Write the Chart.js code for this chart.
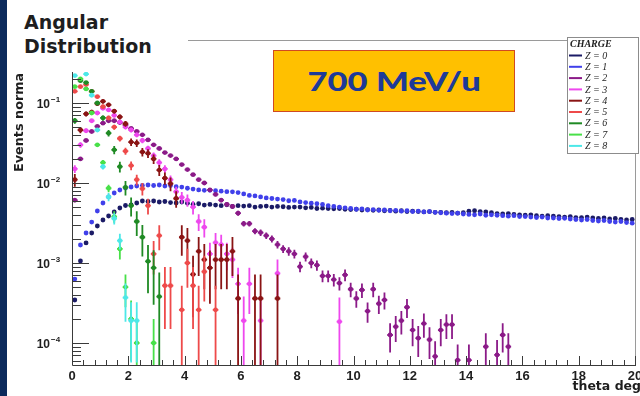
<!DOCTYPE html>
<html>
<head>
<meta charset="utf-8">
<title>Angular Distribution</title>
<script src="https://cdn.jsdelivr.net/npm/chart.js@4.4.0/dist/chart.umd.min.js"></script>
<style>
  html, body { margin: 0; padding: 0; background: #fff; }
  .slide { position: relative; width: 640px; height: 396px; overflow: hidden; background: #fff; }
  #angular { position: absolute; left: 0; top: 0; }
  .strip { position: absolute; left: 0; top: 0; width: 7px; height: 396px; background: #0c2a5c; }
  .title {
    position: absolute; left: 8px; top: 0; width: 180px; height: 72px;
    box-sizing: border-box; padding: 10px 0 0 16px; background: #fff;
    font: bold 19px "DejaVu Sans", sans-serif; line-height: 24px; color: #1e1e1e;
  }
  .energy {
    position: absolute; left: 273px; top: 50px; width: 242px; height: 62px;
    box-sizing: border-box; background: #ffc000; border: 1px solid #cf4a22;
    display: flex; align-items: center; justify-content: center;
  }
  .energy span {
    display: inline-block; font: 900 26px Lato, sans-serif; color: #1d3a98;
    transform: scaleX(1.33);
  }
</style>
</head>
<body>
<div class="slide">
  <canvas id="angular" width="640" height="396"></canvas>
  <div class="strip"></div>
  <div class="title">Angular<br>Distribution</div>
  <div class="energy"><span>700 MeV/u</span></div>
</div>
<script>
// bin centres of the theta histograms (0.2 deg bins, 0..20 deg)
const thetaBins = Array.from({ length: 100 }, (_, i) => +(0.1 + 0.2 * i).toFixed(1));

const chargeLabels = ['Z = 0', 'Z = 1', 'Z = 2', 'Z = 3', 'Z = 4', 'Z = 5', 'Z = 6', 'Z = 7', 'Z = 8'];

// Z = 0 and Z = 1 cover the full range, one value per bin
const z0Values = [
  3.45e-4, 1.06e-3, 1.78e-3, 2.37e-3, 2.9e-3, 3.45e-3, 3.87e-3, 4.34e-3, 4.87e-3, 5.23e-3,
  5.31e-3, 5.62e-3, 5.96e-3, 5.87e-3, 5.96e-3, 5.79e-3, 5.87e-3, 5.70e-3, 5.62e-3, 5.79e-3,
  5.6e-3, 5.4e-3, 5.5e-3, 5.3e-3, 5.4e-3, 5.3e-3, 5.2e-3, 5.35e-3, 5.1e-3, 5.2e-3,
  5.15e-3, 5.2e-3, 5.0e-3, 5.1e-3, 5.15e-3, 5.0e-3, 5.1e-3, 5.05e-3, 4.95e-3, 5.0e-3,
  5.0e-3, 4.9e-3, 4.95e-3, 4.8e-3, 4.85e-3, 4.8e-3, 4.75e-3, 4.8e-3, 4.7e-3, 4.65e-3,
  4.7e-3, 4.6e-3, 4.65e-3, 4.55e-3, 4.6e-3, 4.5e-3, 4.55e-3, 4.45e-3, 4.5e-3, 4.4e-3,
  4.45e-3, 4.4e-3, 4.35e-3, 4.4e-3, 4.3e-3, 4.3e-3, 4.25e-3, 4.3e-3, 4.2e-3, 4.25e-3,
  4.45e-3, 4.5e-3, 4.4e-3, 4.35e-3, 4.25e-3, 4.15e-3, 4.1e-3, 4.15e-3, 4.05e-3, 4.0e-3,
  3.95e-3, 4.0e-3, 3.9e-3, 3.85e-3, 3.9e-3, 3.85e-3, 3.8e-3, 3.75e-3, 3.8e-3, 3.7e-3,
  3.7e-3, 3.75e-3, 3.65e-3, 3.6e-3, 3.65e-3, 3.55e-3, 3.6e-3, 3.5e-3, 3.45e-3, 3.5e-3
];
const z1Values = [
  6.3e-4, 1.68e-3, 2.37e-3, 3.25e-3, 4.47e-3, 5.62e-3, 6.68e-3, 7.5e-3, 8.18e-3, 8.66e-3,
  8.91e-3, 9.17e-3, 9.3e-3, 9.44e-3, 9.3e-3, 9.44e-3, 9.17e-3, 9.3e-3, 9.0e-3, 8.9e-3,
  8.6e-3, 8.4e-3, 8.2e-3, 8.1e-3, 8.1e-3, 8.0e-3, 7.9e-3, 7.8e-3, 7.75e-3, 7.6e-3,
  7.3e-3, 7.0e-3, 6.9e-3, 6.7e-3, 6.5e-3, 6.4e-3, 6.3e-3, 6.2e-3, 6.0e-3, 6.05e-3,
  5.8e-3, 5.7e-3, 5.6e-3, 5.5e-3, 5.4e-3, 5.2e-3, 5.1e-3, 5.0e-3, 4.9e-3, 4.8e-3,
  4.7e-3, 4.75e-3, 4.6e-3, 4.65e-3, 4.55e-3, 4.6e-3, 4.5e-3, 4.55e-3, 4.45e-3, 4.5e-3,
  4.4e-3, 4.45e-3, 4.35e-3, 4.4e-3, 4.3e-3, 4.25e-3, 4.2e-3, 4.15e-3, 4.2e-3, 4.1e-3,
  4.05e-3, 4.0e-3, 4.1e-3, 3.95e-3, 4.0e-3, 3.95e-3, 3.9e-3, 3.85e-3, 3.9e-3, 3.8e-3,
  3.8e-3, 3.75e-3, 3.7e-3, 3.75e-3, 3.65e-3, 3.65e-3, 3.6e-3, 3.62e-3, 3.55e-3, 3.5e-3,
  3.45e-3, 3.5e-3, 3.4e-3, 3.35e-3, 3.4e-3, 3.3e-3, 3.25e-3, 3.3e-3, 3.2e-3, 3.15e-3
];

// heavier fragments: [theta, value, error], empty bins left out
const z2Points = [
  [0.1, 0.0061, 3.5e-4], [0.3, 0.020, 6.3e-4], [0.5, 0.034, 8.2e-4], [0.7, 0.044, 9.4e-4],
  [0.9, 0.051, 1.0e-3], [1.1, 0.056, 1.06e-3], [1.3, 0.060, 1.1e-3], [1.5, 0.060, 1.1e-3],
  [1.7, 0.057, 1.07e-3], [1.9, 0.053, 1.03e-3], [2.1, 0.048, 9.8e-4], [2.3, 0.044, 9.4e-4],
  [2.5, 0.040, 8.9e-4], [2.7, 0.0345, 8.3e-4], [2.9, 0.030, 7.7e-4], [3.1, 0.027, 7.3e-4],
  [3.3, 0.024, 6.9e-4], [3.5, 0.022, 6.6e-4], [3.7, 0.020, 6.3e-4], [3.9, 0.017, 5.8e-4],
  [4.1, 0.0147, 5.4e-4], [4.3, 0.0127, 5.0e-4], [4.5, 0.011, 4.7e-4], [4.7, 0.010, 4.5e-4],
  [4.9, 0.0082, 4.0e-4], [5.1, 0.0072, 3.8e-4], [5.3, 0.0061, 3.5e-4], [5.5, 0.0054, 3.3e-4],
  [5.7, 0.0051, 3.2e-4], [5.9, 0.0042, 2.9e-4], [6.1, 0.0031, 2.5e-4], [6.3, 0.0031, 2.5e-4],
  [6.5, 0.0025, 2.2e-4], [6.7, 0.0024, 2.2e-4], [6.9, 0.0022, 2.1e-4], [7.1, 0.0020, 2.0e-4],
  [7.3, 0.0017, 1.8e-4], [7.5, 0.0015, 1.7e-4], [7.7, 0.0014, 1.7e-4], [7.9, 0.0013, 1.6e-4],
  [8.1, 9.0e-4, 1.34e-4], [8.3, 1.2e-3, 1.55e-4], [8.5, 1.0e-3, 1.41e-4], [8.7, 9.4e-4, 1.37e-4],
  [8.9, 6.9e-4, 1.17e-4], [9.1, 6.9e-4, 1.17e-4], [9.3, 6.2e-4, 1.11e-4], [9.5, 5.6e-4, 1.06e-4],
  [9.7, 7.1e-4, 1.19e-4], [9.9, 4.7e-4, 9.7e-5], [10.1, 3.6e-4, 8.5e-5], [10.3, 4.6e-4, 9.6e-5],
  [10.5, 2.5e-4, 7.1e-5], [10.7, 4.7e-4, 9.7e-5], [10.9, 3.1e-4, 7.9e-5], [11.1, 3.45e-4, 8.3e-5],
  [11.3, 1.26e-4, 5.0e-5], [11.5, 1.6e-4, 5.7e-5], [11.7, 1.9e-4, 6.2e-5], [11.9, 2.8e-4, 7.5e-5],
  [12.1, 1.45e-4, 5.4e-5], [12.3, 1.15e-4, 4.8e-5], [12.5, 1.75e-4, 5.9e-5], [12.7, 1.1e-4, 4.7e-5],
  [12.9, 6.8e-5, 3.7e-5], [13.1, 1.45e-4, 5.4e-5], [13.3, 1.7e-4, 5.8e-5], [13.5, 1.7e-4, 5.8e-5],
  [13.7, 6.1e-5, 3.5e-5], [14.1, 6.1e-5, 3.5e-5], [14.7, 9.0e-5, 4.2e-5], [15.1, 7.1e-5, 3.8e-5],
  [15.3, 1.26e-4, 5.0e-5], [15.5, 9.0e-5, 4.2e-5]
];
const z3Points = [
  [0.1, 0.015, 1.67e-3], [0.3, 0.030, 2.4e-3], [0.5, 0.045, 2.9e-3], [0.7, 0.060, 3.3e-3],
  [0.9, 0.075, 3.7e-3], [1.1, 0.086, 4.0e-3], [1.3, 0.082, 3.9e-3], [1.5, 0.070, 3.6e-3],
  [1.7, 0.058, 3.3e-3], [1.9, 0.050, 3.0e-3], [2.1, 0.046, 2.9e-3], [2.3, 0.040, 2.7e-3],
  [2.5, 0.034, 2.5e-3], [2.7, 0.027, 2.2e-3], [2.9, 0.022, 2.0e-3], [3.1, 0.018, 1.8e-3],
  [3.3, 0.015, 1.67e-3], [3.5, 0.011, 1.43e-3], [3.7, 0.0078, 1.2e-3], [3.9, 0.0066, 1.1e-3],
  [4.1, 0.0061, 1.06e-3], [4.3, 0.0050, 9.6e-4], [4.5, 0.0033, 7.8e-4], [4.7, 0.0028, 7.2e-4],
  [4.9, 0.0013, 4.9e-4], [5.1, 0.0018, 5.8e-4], [5.3, 0.0017, 5.6e-4], [5.5, 0.0013, 4.9e-4],
  [5.7, 0.0011, 4.5e-4], [5.9, 5.5e-4, 3.2e-4], [6.1, 1.9e-4, 1.9e-4], [6.3, 5.5e-4, 3.2e-4],
  [6.7, 1.9e-4, 1.9e-4], [7.3, 7.4e-4, 3.7e-4], [9.5, 1.85e-4, 1.85e-4]
];
const z4Points = [
  [0.1, 0.011, 2.0e-3], [0.3, 0.046, 4.1e-3], [0.5, 0.073, 5.1e-3], [0.7, 0.077, 5.3e-3],
  [0.9, 0.098, 5.9e-3], [1.1, 0.105, 6.1e-3], [1.3, 0.095, 5.8e-3], [1.5, 0.079, 5.3e-3],
  [1.7, 0.067, 4.9e-3], [1.9, 0.055, 4.4e-3], [2.1, 0.0325, 3.4e-3], [2.3, 0.0316, 3.4e-3],
  [2.5, 0.0244, 3.0e-3], [2.7, 0.0235, 2.9e-3], [2.9, 0.020, 2.7e-3], [3.1, 0.0145, 2.3e-3],
  [3.3, 0.0115, 2.0e-3], [3.5, 0.0098, 1.9e-3], [3.7, 0.0064, 1.5e-3], [3.9, 0.0021, 8.7e-4],
  [4.1, 0.0019, 8.3e-4], [4.3, 7.2e-4, 5.1e-4], [4.5, 0.0014, 7.1e-4], [4.7, 0.0011, 6.3e-4],
  [4.9, 8.7e-4, 5.6e-4], [5.1, 0.0011, 6.3e-4], [5.3, 0.0011, 6.3e-4], [5.5, 0.0011, 6.3e-4],
  [5.7, 0.0014, 7.1e-4], [5.9, 3.6e-4, 3.6e-4], [6.5, 3.6e-4, 3.6e-4], [6.7, 3.6e-4, 3.6e-4],
  [7.3, 3.6e-4, 3.6e-4]
];
const z5Points = [
  [0.1, 0.14, 6.0e-3], [0.3, 0.16, 6.5e-3], [0.5, 0.17, 6.6e-3], [0.7, 0.14, 6.0e-3],
  [0.9, 0.12, 5.6e-3], [1.1, 0.09, 4.8e-3], [1.3, 0.065, 4.1e-3], [1.5, 0.050, 3.6e-3],
  [1.7, 0.036, 3.1e-3], [1.9, 0.025, 2.5e-3], [2.1, 0.0165, 2.1e-3], [2.3, 0.011, 1.7e-3],
  [2.5, 0.0085, 1.5e-3], [2.7, 0.0052, 1.16e-3], [2.9, 0.0013, 5.8e-4], [3.1, 0.0022, 7.6e-4],
  [3.3, 5.2e-4, 3.7e-4], [3.5, 5.2e-4, 3.7e-4], [3.9, 2.6e-4, 2.6e-4], [4.1, 0.0010, 5.1e-4],
  [4.3, 5.2e-4, 3.7e-4], [4.5, 2.6e-4, 2.6e-4], [4.7, 7.8e-4, 4.5e-4], [5.1, 2.6e-4, 2.6e-4]
];
const z6Points = [
  [0.1, 0.06, 4.8e-3], [0.3, 0.19, 8.5e-3], [0.5, 0.18, 8.3e-3], [0.7, 0.14, 7.3e-3],
  [0.9, 0.10, 6.2e-3], [1.1, 0.065, 5.0e-3], [1.3, 0.042, 4.0e-3], [1.5, 0.026, 3.1e-3],
  [1.7, 0.016, 2.5e-3], [1.9, 0.0088, 1.83e-3], [2.1, 0.0052, 1.4e-3], [2.3, 0.0033, 1.12e-3],
  [2.5, 0.0021, 8.9e-4], [2.7, 0.00105, 6.3e-4], [2.9, 8.7e-4, 5.7e-4], [3.1, 3.8e-4, 3.8e-4]
];
const z7Points = [
  [0.1, 0.16, 4.0e-3], [0.3, 0.20, 4.5e-3], [0.5, 0.15, 3.9e-3], [0.7, 0.075, 2.7e-3],
  [0.9, 0.030, 1.7e-3], [1.1, 0.018, 1.34e-3], [1.3, 0.0086, 9.3e-4], [1.5, 0.0038, 6.2e-4],
  [1.7, 0.0015, 3.9e-4], [1.9, 5.0e-4, 2.2e-4], [2.1, 2.0e-4, 1.4e-4], [2.3, 1.0e-4, 1.0e-4],
  [2.9, 1.0e-4, 1.0e-4]
];
const z8Points = [
  [0.1, 0.22, 4.5e-3], [0.3, 0.30, 5.3e-3], [0.5, 0.23, 4.6e-3], [0.7, 0.125, 3.4e-3],
  [0.9, 0.046, 2.07e-3], [1.1, 0.016, 1.22e-3], [1.3, 0.0067, 7.9e-4], [1.5, 0.0036, 5.8e-4],
  [1.7, 0.0019, 4.2e-4], [1.9, 3.7e-4, 1.85e-4], [2.1, 1.9e-4, 1.33e-4], [2.3, 1.9e-4, 1.33e-4]
];

const xTickLabels = ['0', '2', '4', '6', '8', '10', '12', '14', '16', '18', '20'];
const yTickValues = [1e-4, 1e-3, 1e-2, 1e-1];
const yTickExponents = ['\u22124', '\u22123', '\u22122', '\u22121'];

const chargeColors = ['#1b1b66', '#4040ea', '#8b1a88', '#ee48ee', '#8a1414',
                      '#ee4a4a', '#1f8a24', '#48e048', '#4ce8e8'];

const pointSets = [
  thetaBins.map((t, i) => [t, z0Values[i], 0]),
  thetaBins.map((t, i) => [t, z1Values[i], 0]),
  z2Points, z3Points, z4Points, z5Points, z6Points, z7Points, z8Points
];

const datasets = pointSets.map((pts, z) => ({
  label: chargeLabels[z],
  data: pts.map(p => ({ x: p[0], y: p[1] })),
  errors: pts.map(p => p[2]),
  backgroundColor: chargeColors[z],
  borderColor: chargeColors[z],
  pointRadius: 2.4,
  pointBorderWidth: 0,
  order: -z            // later charges end up on top
}));

// vertical stat errors plus the bin-width whisker, drawn under each set's markers
const errorBars = {
  id: 'errorBars',
  beforeDatasetDraw(chart, args) {
    const ds = chart.data.datasets[args.index];
    const { ctx, chartArea: a, scales: { x, y } } = chart;
    ctx.save();
    ctx.beginPath();
    ctx.rect(a.left, a.top, a.right - a.left, a.bottom - a.top);
    ctx.clip();
    ctx.strokeStyle = ds.borderColor;
    ctx.lineWidth = 1.8;
    ds.data.forEach((p, i) => {
      const e = ds.errors[i];
      if (!e) return;
      const px = x.getPixelForValue(p.x);
      const py = y.getPixelForValue(p.y);
      const top = y.getPixelForValue(p.y + e);
      const bot = p.y - e > 0 ? y.getPixelForValue(p.y - e) : a.bottom + 4;
      const half = x.getPixelForValue(p.x + 0.1) - px;
      ctx.beginPath();
      ctx.moveTo(px, top); ctx.lineTo(px, bot);
      ctx.moveTo(px - half, py); ctx.lineTo(px + half, py);
      ctx.stroke();
    });
    ctx.restore();
  }
};

// ROOT-style frame: inward ticks, 10^n labels, axis titles and the CHARGE legend
const rootFrame = {
  id: 'rootFrame',
  afterDraw(chart) {
    const { ctx, chartArea: a, scales: { x, y } } = chart;
    ctx.save();

    ctx.lineWidth = 1;
    ctx.strokeStyle = '#9a9a9a';
    ctx.beginPath();
    ctx.moveTo(a.left, a.top + 0.5); ctx.lineTo(a.right + 1, a.top + 0.5);
    ctx.moveTo(a.right + 0.5, a.top); ctx.lineTo(a.right + 0.5, a.bottom);
    ctx.stroke();

    ctx.strokeStyle = '#3a3a3a';
    ctx.beginPath();
    ctx.moveTo(a.left + 0.5, a.top); ctx.lineTo(a.left + 0.5, a.bottom + 0.5);
    ctx.lineTo(a.right + 1, a.bottom + 0.5);
    for (let k = 0; k <= 50; k++) {
      const px = Math.round(x.getPixelForValue(k * 0.4)) + 0.5;
      const len = k % 5 === 0 ? 9 : 5;
      ctx.moveTo(px, a.bottom); ctx.lineTo(px, a.bottom - len);
    }
    for (let e = -5; e <= -1; e++) {
      for (let m = 1; m <= 9; m++) {
        const v = m * Math.pow(10, e);
        if (v < y.min || v > y.max) continue;
        const py = Math.round(y.getPixelForValue(v)) + 0.5;
        ctx.moveTo(a.left, py); ctx.lineTo(a.left + (m === 1 ? 17 : 9), py);
      }
    }
    ctx.stroke();

    ctx.fillStyle = '#1e1e1e';
    ctx.font = 'bold 13px "Liberation Sans", Arial, sans-serif';
    ctx.textAlign = 'center';
    ctx.textBaseline = 'middle';
    xTickLabels.forEach(t => ctx.fillText(t, x.getPixelForValue(+t), a.bottom + 11));

    yTickValues.forEach((v, i) => {
      const py = y.getPixelForValue(v);
      ctx.font = 'bold 12px "Liberation Sans", Arial, sans-serif';
      ctx.textAlign = 'right';
      ctx.fillText('10', 50, py + 2);
      ctx.font = 'bold 8px "Liberation Sans", Arial, sans-serif';
      ctx.textAlign = 'left';
      ctx.fillText(yTickExponents[i], 51, py - 3);
    });

    ctx.font = 'bold 12.5px "DejaVu Sans", sans-serif';
    ctx.textAlign = 'right';
    ctx.fillText('theta deg', 641, 387);

    ctx.save();
    ctx.translate(23, 172);
    ctx.rotate(-Math.PI / 2);
    ctx.font = 'bold 12.8px "DejaVu Sans", sans-serif';
    ctx.textAlign = 'left';
    ctx.textBaseline = 'alphabetic';
    ctx.fillText('Events norma', 0, 0);
    ctx.restore();

    // legend box
    ctx.fillStyle = '#fff';
    ctx.fillRect(567, 37, 72, 117);
    ctx.strokeStyle = '#8c8c8c';
    ctx.strokeRect(567.5, 37.5, 71, 116);
    ctx.fillStyle = '#222';
    ctx.textAlign = 'left';
    ctx.textBaseline = 'middle';
    ctx.font = 'bold italic 10px "Liberation Serif", serif';
    ctx.fillText('CHARGE', 570, 44);
    ctx.font = 'italic 10px "Liberation Serif", serif';
    chart.data.datasets.forEach((ds, i) => {
      const ly = 55.5 + i * 11.3;
      ctx.strokeStyle = ds.borderColor;
      ctx.lineWidth = 2;
      ctx.beginPath();
      ctx.moveTo(569, ly); ctx.lineTo(582, ly);
      ctx.stroke();
      ctx.fillText(ds.label, 585, ly + 0.5);
    });

    ctx.restore();
  }
};

new Chart(document.getElementById('angular'), {
  type: 'scatter',
  data: { datasets },
  options: {
    responsive: false,
    animation: false,
    devicePixelRatio: 1,
    events: [],
    layout: { padding: { left: 72, top: 40, right: 5, bottom: 31 } },
    plugins: { legend: { display: false }, tooltip: { enabled: false } },
    scales: {
      x: { type: 'linear', min: 0, max: 20, display: false },
      y: { type: 'logarithmic', min: 5.31e-5, max: 0.613, display: false }
    }
  },
  plugins: [errorBars, rootFrame]
});
</script>
</body>
</html>
